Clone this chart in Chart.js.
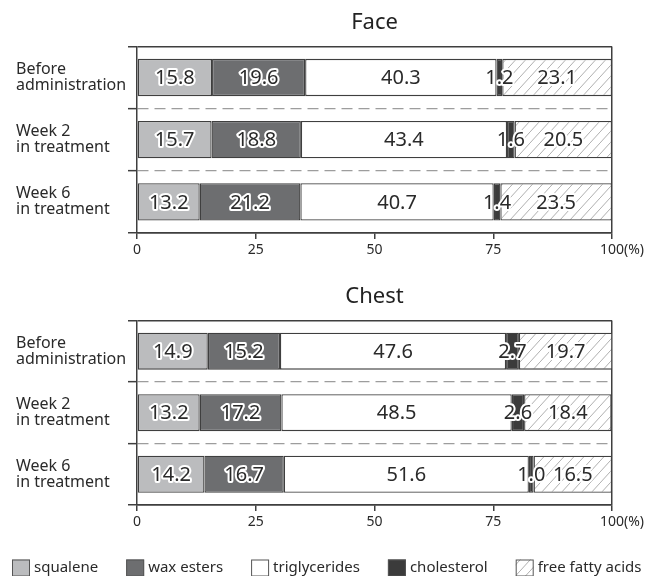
<!DOCTYPE html>
<html>
<head>
<meta charset="utf-8">
<script src="https://cdn.jsdelivr.net/npm/chart.js@4.4.0/dist/chart.umd.min.js"></script>
<style>
  body { margin: 0; background: #fff; width: 645px; height: 576px; overflow: hidden; position: relative; }
  .box { position: absolute; left: 0; width: 645px; }
</style>
</head>
<body>
<div class="box" style="top:0;height:262px"><canvas id="face"></canvas></div>
<div class="box" style="top:274px;height:302px"><canvas id="chest"></canvas></div>
<script>
// categories and series
const categories = [["Before", "administration"], ["Week 2", "in treatment"], ["Week 6", "in treatment"]];
const seriesNames = ["squalene", "wax esters", "triglycerides", "cholesterol", "free fatty acids"];
const xTicks = [0, 25, 50, 75, 100];

// Face (%)
const faceSqualene = [15.8, 15.7, 13.2];
const faceWaxEsters = [19.6, 18.8, 21.2];
const faceTriglycerides = [40.3, 43.4, 40.7];
const faceCholesterol = [1.2, 1.6, 1.4];
const faceFreeFattyAcids = [23.1, 20.5, 23.5];

// Chest (%)
const chestSqualene = [14.9, 13.2, 14.2];
const chestWaxEsters = [15.2, 17.2, 16.7];
const chestTriglycerides = [47.6, 48.5, 51.6];
const chestCholesterol = [2.7, 2.6, 1.0];
const chestFreeFattyAcids = [19.7, 18.4, 16.5];

const FONT = '"Noto Sans", "Open Sans", sans-serif';
const EDGE = '#3f3f3f';
const TEXT = '#2a2a2a';

function hatch() {
  const c = document.createElement('canvas');
  c.width = 10; c.height = 11;
  const g = c.getContext('2d');
  g.fillStyle = '#fff';
  g.fillRect(0, 0, 10, 11);
  g.strokeStyle = '#9c9c9c';
  g.lineWidth = 0.8;
  g.beginPath();
  g.moveTo(-1, 12.1); g.lineTo(11, -1.1);
  g.stroke();
  return g.createPattern(c, 'repeat');
}

const fills = ['#bbbcbe', '#6d6e70', '#ffffff', '#3b3b3b', hatch()];
const outlined = [true, true, false, true, true];

function makeDatasets(arrays) {
  return arrays.map((d, i) => ({
    label: seriesNames[i],
    data: d,
    backgroundColor: fills[i],
    borderColor: EDGE,
    borderWidth: 1.3,
    borderSkipped: false,
    barPercentage: 0.6,
    categoryPercentage: 1
  }));
}

// numbers on the segments
const valueLabels = {
  id: 'valueLabels',
  afterDatasetsDraw(chart) {
    const ctx = chart.ctx;
    ctx.save();
    ctx.font = '20px ' + FONT;
    ctx.textAlign = 'center';
    ctx.textBaseline = 'middle';
    ctx.lineJoin = 'round';
    chart.data.datasets.forEach((ds, di) => {
      chart.getDatasetMeta(di).data.forEach((bar, i) => {
        const x = (bar.x + bar.base) / 2;
        const t = ds.data[i].toFixed(1);
        if (outlined[di]) {
          ctx.strokeStyle = '#fff';
          ctx.lineWidth = 4;
          ctx.strokeText(t, x, bar.y + 1);
        }
        ctx.fillStyle = TEXT;
        ctx.fillText(t, x, bar.y + 1);
      });
    });
    ctx.restore();
  }
};

// "(%)" after the 100 tick
const percentUnit = {
  id: 'percentUnit',
  afterDraw(chart) {
    const sx = chart.scales.x;
    const ctx = chart.ctx;
    ctx.save();
    ctx.font = '14px ' + FONT;
    const x = sx.getPixelForValue(100) + ctx.measureText('100').width / 2;
    ctx.fillStyle = TEXT;
    ctx.textAlign = 'left';
    ctx.textBaseline = 'middle';
    ctx.fillText('(%)', x, sx.top + 6 + 3 + 8.4);
    ctx.restore();
  }
};

// legend drawn by hand so all five items fit on one row
const bottomLegend = {
  id: 'bottomLegend',
  afterDraw(chart) {
    const ctx = chart.ctx;
    const items = chart.options.plugins.legend.labels.generateLabels(chart);
    ctx.save();
    ctx.font = '15px ' + FONT;
    ctx.textBaseline = 'middle';
    const yc = 294, bw = 18, bh = 17, gapText = 4, gap = 28;
    let x = 12;
    items.forEach((it, i) => {
      ctx.fillStyle = chart.data.datasets[i].backgroundColor;
      ctx.fillRect(x, yc - bh / 2, bw, bh);
      ctx.strokeStyle = '#555';
      ctx.lineWidth = 1;
      ctx.strokeRect(x + 0.5, yc - bh / 2 + 0.5, bw - 1, bh - 1);
      ctx.fillStyle = TEXT;
      ctx.fillText(it.text, x + bw + gapText, yc);
      x += bw + gapText + ctx.measureText(it.text).width + gap;
    });
    ctx.restore();
  }
};

function makeChart(id, title, arrays, bottomPad, extra) {
  const inner = c => c.type === 'tick' && c.index > 0;
  return new Chart(document.getElementById(id), {
    type: 'bar',
    data: { labels: categories, datasets: makeDatasets(arrays) },
    plugins: [valueLabels, percentUnit].concat(extra),
    options: {
      indexAxis: 'y',
      responsive: true,
      maintainAspectRatio: false,
      animation: false,
      layout: { padding: { left: 16, right: 33, top: 0, bottom: bottomPad } },
      scales: {
        x: {
          stacked: true,
          min: 0,
          max: 100,
          afterBuildTicks: s => { s.ticks = xTicks.map(v => ({ value: v })); },
          afterFit: s => { s.height = 28; },
          ticks: { color: TEXT, font: { family: FONT, size: 14 }, padding: 3, maxRotation: 0 },
          grid: {
            color: c => (c.tick && c.tick.value === 100) ? EDGE : 'rgba(0,0,0,0)',
            lineWidth: 1.5,
            tickColor: EDGE,
            tickWidth: 1.5,
            tickLength: 6
          },
          border: { color: EDGE, width: 1.5 }
        },
        y: {
          stacked: true,
          afterFit: s => { s.width = 121; },
          ticks: {
            color: TEXT,
            crossAlign: 'far',
            padding: 3,
            font: { family: FONT, size: 16, lineHeight: 1.0 }
          },
          grid: {
            offset: true,
            color: c => inner(c) ? '#9d9d9d' : EDGE,
            lineWidth: c => inner(c) ? 1.3 : 1.5,
            tickColor: EDGE,
            tickWidth: 1.5,
            tickLength: 9
          },
          border: { color: EDGE, width: 1.5, dash: c => inner(c) ? [11, 6] : [] }
        }
      },
      plugins: {
        legend: { display: false },
        tooltip: { enabled: false },
        title: {
          display: true,
          text: title,
          fullSize: false,
          color: '#222',
          font: { family: FONT, size: 22, weight: 'normal' },
          padding: { top: 10, bottom: 10 }
        }
      }
    }
  });
}

makeChart('face', 'Face',
  [faceSqualene, faceWaxEsters, faceTriglycerides, faceCholesterol, faceFreeFattyAcids], 1, []);
makeChart('chest', 'Chest',
  [chestSqualene, chestWaxEsters, chestTriglycerides, chestCholesterol, chestFreeFattyAcids], 43, [bottomLegend]);
</script>
</body>
</html>
